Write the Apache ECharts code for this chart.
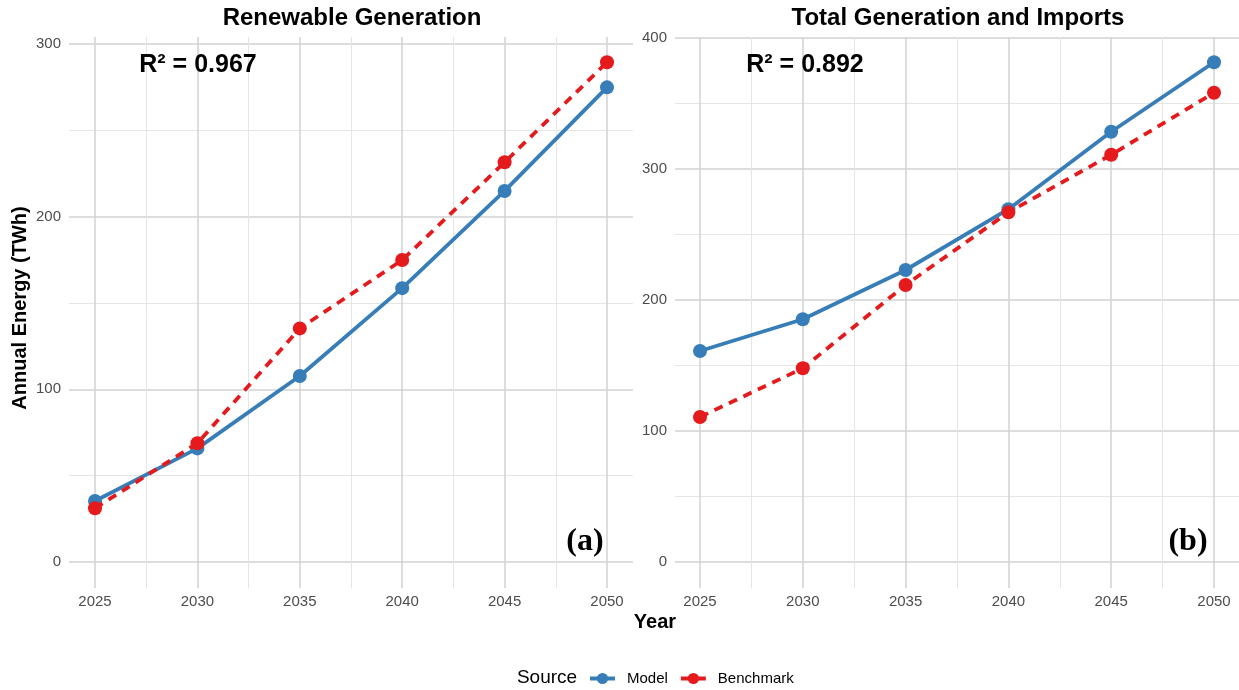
<!DOCTYPE html>
<html>
<head>
<meta charset="utf-8">
<script src="https://cdn.jsdelivr.net/npm/echarts@6/dist/echarts.min.js"></script>
<style>
html,body{margin:0;padding:0;background:#fff;}
#chart{width:1239px;height:690px;}
</style>
</head>
<body>
<div id="chart"></div>
<script>
// ---- data ----
const years = [2025, 2030, 2035, 2040, 2045, 2050];
const renewModel = [35.3, 65.8, 107.7, 158.6, 214.9, 274.9];
const renewBenchmark = [31.1, 68.8, 135.3, 174.9, 231.5, 289.4];
const totalModel = [161.1, 185.3, 222.9, 269.3, 328.4, 381.5];
const totalBenchmark = [110.7, 147.9, 211.5, 266.9, 310.9, 358.2];
const yTicksLeft = [0, 100, 200, 300];
const yTicksRight = [0, 100, 200, 300, 400];
const panelTitles = ['Renewable Generation', 'Total Generation and Imports'];
const r2Labels = ['R² = 0.967', 'R² = 0.892'];
const panelTags = ['(a)', '(b)'];
const seriesNames = ['Model', 'Benchmark'];

const FONT = 'Liberation Sans, Arial, sans-serif';
const BLUE = '#377EB8', RED = '#E41A1C';
const MAJOR = '#d2d2d2', MINOR = '#e5e5e5';

const chart = echarts.init(document.getElementById('chart'), null, {renderer: 'canvas'});

function pts(vals) { return years.map((y, i) => [y, vals[i]]); }

const panels = [
  {vLeft: 95, vWidth: 512, hLeft: 69, hWidth: 564, top: 44, height: 518, ymax: 300, ticks: yTicksLeft, model: renewModel, bench: renewBenchmark},
  {vLeft: 700, vWidth: 514, hLeft: 675, hWidth: 564, top: 38, height: 524, ymax: 400, ticks: yTicksRight, model: totalModel, bench: totalBenchmark}
];

const grid = [], xAxis = [], yAxis = [], series = [];
panels.forEach((p, k) => {
  const gV = grid.length;
  grid.push({left: p.vLeft, width: p.vWidth, top: 37, height: 551, containLabel: false});
  xAxis.push({type: 'value', gridIndex: gV, min: years[0], max: years[years.length-1], interval: 5,
    axisLine: {show: false}, axisTick: {show: false},
    axisLabel: {color: '#4d4d4d', fontSize: 15, fontFamily: FONT, margin: 6, formatter: v => String(v)},
    splitLine: {show: true, lineStyle: {color: MAJOR, width: 1.5}},
    minorTick: {show: false, splitNumber: 2},
    minorSplitLine: {show: true, lineStyle: {color: MINOR, width: 1}}});
  yAxis.push({type: 'value', gridIndex: gV, min: 0, max: 1, show: false, splitLine: {show: false}});

  const gH = grid.length;
  grid.push({left: p.hLeft, width: p.hWidth, top: p.top, height: p.height, containLabel: false});
  xAxis.push({type: 'value', gridIndex: gH, min: 0, max: 1, show: false, splitLine: {show: false}});
  yAxis.push({type: 'value', gridIndex: gH, min: p.ticks[0], max: p.ticks[p.ticks.length-1], interval: 100,
    axisLine: {show: false}, axisTick: {show: false},
    axisLabel: {color: '#4d4d4d', fontSize: 15, fontFamily: FONT, margin: 8},
    splitLine: {show: true, lineStyle: {color: MAJOR, width: 1.5}},
    minorTick: {show: false, splitNumber: 2},
    minorSplitLine: {show: true, lineStyle: {color: MINOR, width: 1}}});

  const gD = grid.length;
  grid.push({left: p.vLeft, width: p.vWidth, top: p.top, height: p.height, containLabel: false});
  xAxis.push({type: 'value', gridIndex: gD, min: years[0], max: years[years.length-1], show: false, splitLine: {show: false}});
  yAxis.push({type: 'value', gridIndex: gD, min: 0, max: p.ymax, show: false, splitLine: {show: false}});

  series.push({name: seriesNames[0], type: 'line', xAxisIndex: gD, yAxisIndex: gD, data: pts(p.model),
    symbol: 'circle', symbolSize: 14, showSymbol: true, clip: false, z: 3,
    itemStyle: {color: BLUE}, lineStyle: {color: BLUE, width: 3.8}});
  series.push({name: seriesNames[1], type: 'line', xAxisIndex: gD, yAxisIndex: gD, data: pts(p.bench),
    symbol: 'circle', symbolSize: 14, showSymbol: true, clip: false, z: 4,
    itemStyle: {color: RED}, lineStyle: {color: RED, width: 3.8, type: [9, 7]}});
});

function txt(x, y, text, font, rot) {
  const o = {type: 'text', x: x, y: y, z: 100, zlevel: 1,
    style: {text: text, font: font, fill: '#000', textAlign: 'center', textVerticalAlign: 'middle'}};
  if (rot) o.rotation = rot;
  return o;
}
const graphic = [
  txt(352, 18, panelTitles[0], 'bold 24px ' + FONT),
  txt(958, 18, panelTitles[1], 'bold 24px ' + FONT),
  txt(198, 65, r2Labels[0], 'bold 25px ' + FONT),
  txt(805, 65, r2Labels[1], 'bold 25px ' + FONT),
  txt(585, 542, panelTags[0], 'bold 32px Liberation Serif, Times New Roman, serif'),
  txt(1188, 542, panelTags[1], 'bold 32px Liberation Serif, Times New Roman, serif'),
  txt(20, 308, 'Annual Energy (TWh)', 'bold 20px ' + FONT, Math.PI / 2),
  txt(655, 622, 'Year', 'bold 20px ' + FONT),
  txt(547, 678, 'Source', '19px ' + FONT)
];

chart.setOption({
  animation: false,
  backgroundColor: '#fff',
  grid, xAxis, yAxis, series, graphic,
  legend: {
    left: 583, top: 666, itemWidth: 25, itemHeight: 14, itemGap: 11,
    textStyle: {fontSize: 15, fontFamily: FONT, color: '#000', padding: [0, 0, 0, 7]},
    data: seriesNames,
    lineStyle: {type: 'solid', width: 4}
  }
});
</script>
</body>
</html>
